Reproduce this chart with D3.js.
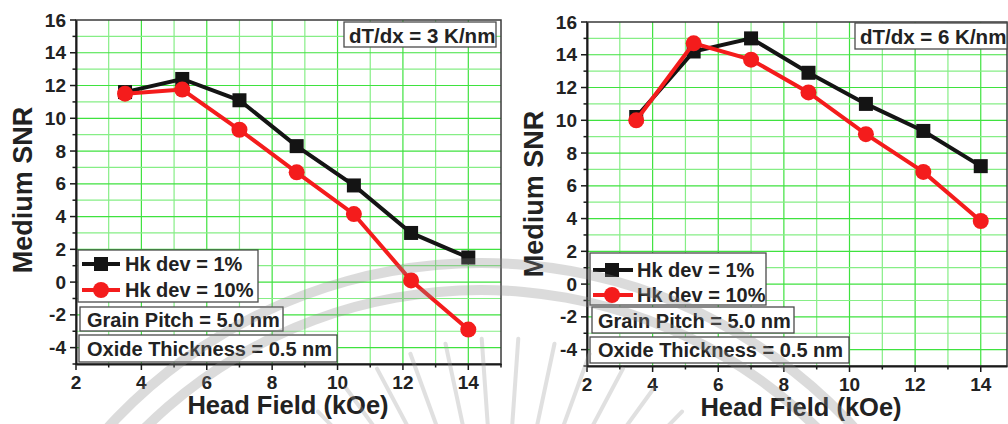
<!DOCTYPE html>
<html>
<head>
<meta charset="utf-8">
<script src="https://cdn.jsdelivr.net/npm/d3@7/dist/d3.min.js"></script>
<style>
  body { margin: 0; background: #fff; }
  text { font-family: "Liberation Sans", Arial, sans-serif; font-weight: bold; fill: #222; }
</style>
</head>
<body>
<script>
// data
var headField = [3.5, 5.25, 7, 8.75, 10.5, 12.25, 14];
var snr3_dev1  = [11.6, 12.4, 11.1, 8.3, 5.9, 3.0, 1.5];
var snr3_dev10 = [11.5, 11.75, 9.3, 6.7, 4.15, 0.1, -2.9];
var snr6_dev1  = [10.2, 14.2, 15.0, 12.9, 11.0, 9.35, 7.2];
var snr6_dev10 = [10.0, 14.7, 13.7, 11.7, 9.15, 6.85, 3.85];
var yTicks = [-4, -2, 0, 2, 4, 6, 8, 10, 12, 14, 16];
var xTicks = [2, 4, 6, 8, 10, 12, 14];
var seriesNames = ["Hk dev = 1%", "Hk dev = 10%"];
var gradientLabels = ["dT/dx = 3 K/nm", "dT/dx = 6 K/nm"];
var grainLabel = "Grain Pitch = 5.0 nm";
var oxideLabel = "Oxide Thickness = 0.5 nm";

var W = 1008, H = 424;
var BLACK = "#141414", RED = "#f41c1c";

var svg = d3.select("body").append("svg").attr("width", W).attr("height", H);

// layout of the two panels
var panels = [
  { x0: 76, x1: 501, y0: 20, y1: 364, xMax: 15,
    s1: snr3_dev1, s10: snr3_dev10, label: gradientLabels[0],
    ylabX: 32, ylabY: 190, xlabX: 288, xlabY: 414, tickBase: 389,
    leg: {x: 78, y: 250, w: 180, h: 52, r1: 264, r2: 290, lx0: 82, lx1: 120, mx: 101, tx: 125},
    grain: {x: 80, y: 307, w: 203, h: 24, tx: 87, ty: 326.5},
    oxide: {x: 79, y: 335, w: 258, h: 27, tx: 87, ty: 355.5},
    dt: {x: 344, y: 22, w: 152, h: 25, tx: 349, ty: 42.5} },
  { x0: 587, x1: 1007, y0: 22, y1: 366, xMax: 14.8,
    s1: snr6_dev1, s10: snr6_dev10, label: gradientLabels[1],
    ylabX: 543, ylabY: 194, xlabX: 801, xlabY: 416, tickBase: 391,
    leg: {x: 590, y: 253, w: 176, h: 52, r1: 270, r2: 295, lx0: 593, lx1: 633, mx: 612, tx: 637},
    grain: {x: 592, y: 307, w: 202, h: 26, tx: 598, ty: 328},
    oxide: {x: 590, y: 337, w: 259, h: 26, tx: 598, ty: 356.5},
    dt: {x: 855, y: 23, w: 152, h: 26, tx: 860, ty: 44} }
];

function drawPanel(p) {
  var g = svg.append("g");
  var x = d3.scaleLinear().domain([2, p.xMax]).range([p.x0, p.x1]);
  var y = d3.scaleLinear().domain([-5, 16]).range([p.y1, p.y0]);

  // green grid
  var gx = d3.range(3, Math.floor(p.xMax) + 1).filter(function(v){ return v < p.xMax; });
  var gy = d3.range(-4, 16);
  g.selectAll(".gx").data(gx).enter().append("line")
    .attr("x1", x).attr("x2", x).attr("y1", p.y0).attr("y2", p.y1)
    .style("stroke", function(d){ return d % 2 == 0 ? "#3fe23f" : "#86ee86"; })
    .style("stroke-width", 1.2);
  g.selectAll(".gy").data(gy).enter().append("line")
    .attr("x1", p.x0).attr("x2", p.x1).attr("y1", y).attr("y2", y)
    .style("stroke", function(d){ return d % 2 == 0 ? "#3fe23f" : "#86ee86"; })
    .style("stroke-width", 1.2);

  // frame
  g.append("rect").attr("x", p.x0).attr("y", p.y0)
    .attr("width", p.x1 - p.x0).attr("height", p.y1 - p.y0)
    .style("fill", "none").style("stroke", "#3a3a3a").style("stroke-width", 1.5);

  // axes
  var yAxis = d3.axisLeft(y).tickValues(d3.range(-5, 17)).tickSize(0).tickFormat("");
  g.append("g").attr("transform", "translate(" + p.x0 + ",0)").call(yAxis)
    .select(".domain").style("stroke", "#1a1a1a").style("stroke-width", 2);
  g.selectAll(".yt").data(d3.range(-5, 17)).enter().append("line")
    .attr("x1", p.x0).attr("x2", function(d){ return p.x0 - (d % 2 == 0 ? 6 : 3.5); })
    .attr("y1", y).attr("y2", y).style("stroke", "#1a1a1a").style("stroke-width", 1.5);
  g.selectAll(".yl").data(yTicks).enter().append("text")
    .attr("x", p.x0 - 10).attr("y", function(d){ return y(d) + 6.5; })
    .attr("text-anchor", "end").style("font-size", "19px").text(function(d){ return d; });

  var xAxis = d3.axisBottom(x).tickValues([]).tickSize(0);
  g.append("g").attr("transform", "translate(0," + p.y1 + ")").call(xAxis)
    .select(".domain").style("stroke", "#1a1a1a").style("stroke-width", 2);
  g.selectAll(".xt").data(d3.range(2, Math.floor(p.xMax) + 1)).enter().append("line")
    .attr("x1", x).attr("x2", x).attr("y1", p.y1)
    .attr("y2", function(d){ return p.y1 + (d % 2 == 0 ? 6 : 3.5); })
    .style("stroke", "#1a1a1a").style("stroke-width", 1.5);
  g.selectAll(".xl").data(xTicks).enter().append("text")
    .attr("x", x).attr("y", p.tickBase)
    .attr("text-anchor", "middle").style("font-size", "19px").text(function(d){ return d; });

  // axis titles
  g.append("text").attr("transform", "translate(" + p.ylabX + "," + p.ylabY + ") rotate(-90)")
    .attr("text-anchor", "middle").style("font-size", "27px").text("Medium SNR");
  g.append("text").attr("x", p.xlabX).attr("y", p.xlabY)
    .attr("text-anchor", "middle").style("font-size", "25.5px").text("Head Field (kOe)");

  // series
  var line = d3.line().x(function(d, i){ return x(headField[i]); }).y(function(d){ return y(d); });
  g.append("path").datum(p.s1).attr("d", line)
    .style("fill", "none").style("stroke", BLACK).style("stroke-width", 4);
  g.selectAll(".sq").data(p.s1).enter().append("rect")
    .attr("x", function(d, i){ return x(headField[i]) - 7; })
    .attr("y", function(d){ return y(d) - 7; })
    .attr("width", 14).attr("height", 14).style("fill", BLACK);
  g.append("path").datum(p.s10).attr("d", line)
    .style("fill", "none").style("stroke", RED).style("stroke-width", 4);
  g.selectAll(".ci").data(p.s10).enter().append("circle")
    .attr("cx", function(d, i){ return x(headField[i]); })
    .attr("cy", function(d){ return y(d); })
    .attr("r", 8).style("fill", RED);

  // legend
  var L = p.leg;
  box(g, L);
  [[L.r1, BLACK, "sq"], [L.r2, RED, "ci"]].forEach(function(r, i){
    g.append("line").attr("x1", L.lx0).attr("x2", L.lx1).attr("y1", r[0]).attr("y2", r[0])
      .style("stroke", r[1]).style("stroke-width", 4);
    if (r[2] == "sq") {
      g.append("rect").attr("x", L.mx - 7).attr("y", r[0] - 7).attr("width", 14).attr("height", 14).style("fill", r[1]);
    } else {
      g.append("circle").attr("cx", L.mx).attr("cy", r[0]).attr("r", 8).style("fill", r[1]);
    }
    g.append("text").attr("x", L.tx).attr("y", r[0] + 7).style("font-size", "20px").text(seriesNames[i]);
  });

  // info boxes
  box(g, p.grain);
  g.append("text").attr("x", p.grain.tx).attr("y", p.grain.ty).style("font-size", "20px").text(grainLabel);
  box(g, p.oxide);
  g.append("text").attr("x", p.oxide.tx).attr("y", p.oxide.ty).style("font-size", "20px").text(oxideLabel);
  box(g, p.dt);
  g.append("text").attr("x", p.dt.tx).attr("y", p.dt.ty).style("font-size", "20.5px").text(p.label);
}

function box(g, b) {
  g.append("rect").attr("x", b.x).attr("y", b.y).attr("width", b.w).attr("height", b.h)
    .style("fill", "#fff").style("stroke", "#4a4a4a").style("stroke-width", 1.3);
}

panels.forEach(drawPanel);

// faint watermark on top
var wm = svg.append("g").style("opacity", 0.3);
[505, 478].forEach(function(r){
  wm.append("path")
    .attr("d", d3.arc().innerRadius(r - 5).outerRadius(r + 5).startAngle(-Math.PI / 2.2).endAngle(Math.PI / 2.2)())
    .attr("transform", "translate(481,768)").style("fill", "#8a8a8a");
});
d3.range(-60, 61, 8).forEach(function(a){
  var t = (a - 90) * Math.PI / 180;
  wm.append("line")
    .attr("x1", 500 + 165 * Math.cos(t)).attr("y1", 600 + 165 * Math.sin(t))
    .attr("x2", 500 + 262 * Math.cos(t)).attr("y2", 600 + 262 * Math.sin(t))
    .style("stroke", "#9a9a9a").style("stroke-width", 4).style("stroke-linecap", "round");
});
</script>
</body>
</html>
